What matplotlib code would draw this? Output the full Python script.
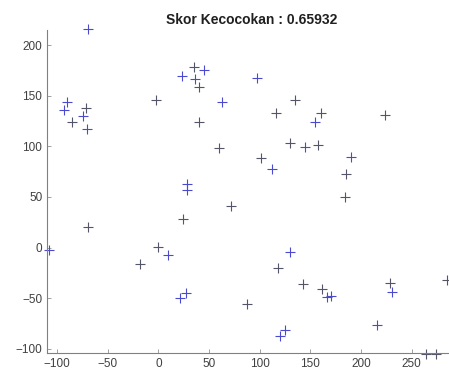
import matplotlib
matplotlib.use("Agg")
import matplotlib.pyplot as plt

# ------------ Data ------------
TITLE = "Skor Kecocokan : 0.65932"

# first point set (blue crosses)
blue_x = [-70, -90, -93, -75, -71, 28, 28, 9, 21, 125, 216, 231, 155, 145, 112,
          130, 170, -108, 63, 36, 97, 23, 45, 190, 27, 120, 166]
blue_y = [216, 144, 136, 130, 117, 63, 57, -7, -50, -81, -76, -44, 124, 99, 78,
          -4, -48, -2, 144, 166, 167, 169, 175, 89, -45, -87, -49]

# second point set (dark crosses)
dark_x = [-18, 24, -70, 40, 60, 116, 161, 224, 130, 101, 185, 72, 118, 143, 162,
          87, 0, -2, -85, -72, 35, 40, 135, 158, 184, 229, 285, 264, 274]
dark_y = [-16, 28, 20, 124, 98, 133, 133, 131, 103, 88, 73, 41, -20, -36, -41,
          -56, 1, 146, 124, 138, 178, 159, 146, 101, 50, -35, -32, -105, -105]

x_ticks = [-100, -50, 0, 50, 100, 150, 200, 250]
y_ticks = [-100, -50, 0, 50, 100, 150, 200]

# --------- Plot ----------
plt.rcParams["font.family"] = ["Liberation Sans", "DejaVu Sans"]
fig = plt.figure(figsize=(4.49, 3.73), dpi=100)
ax = fig.add_axes([0.105, 0.054, 0.895, 0.866])

ax.plot(dark_x, dark_y, linestyle="none", marker="+", markersize=7,
        markeredgewidth=0.8, color="#55556a", clip_on=False)
ax.plot(blue_x, blue_y, linestyle="none", marker="+", markersize=7,
        markeredgewidth=0.8, color="#4a4ad0", clip_on=False)

ax.set_xlim(-110, 287)
ax.set_ylim(-104, 215)
ax.set_xticks(x_ticks)
ax.set_yticks(y_ticks)
ax.tick_params(direction="in", length=3, width=0.6, colors="#909090",
               labelcolor="#404040", labelsize=8.5)
for side in ["top", "right"]:
    ax.spines[side].set_visible(False)
for side in ["left", "bottom"]:
    ax.spines[side].set_color("#808080")
    ax.spines[side].set_linewidth(0.8)

fig.text(252 / 449, 1 - 20 / 373, TITLE, ha="center", va="center",
         fontsize=10, fontweight="bold", color="#202020")

fig.savefig("out.png", dpi=100)
plt.close(fig)
